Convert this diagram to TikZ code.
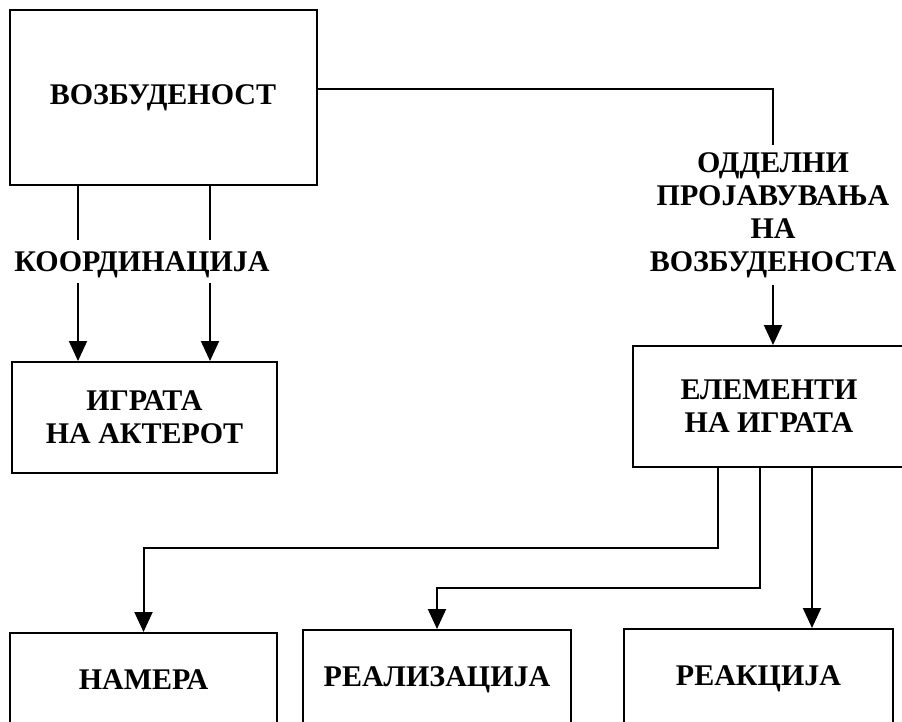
\documentclass[tikz,border=0pt]{standalone}
\usepackage{fontspec}
\setmainfont{Liberation Serif}
\usetikzlibrary{arrows.meta}
\tikzset{
	capfont/.style={font=\fontsize{30}{33}\selectfont\bfseries},
	box/.style={draw, line width=2pt, align=center, capfont},
	lowbox/.style={box, anchor=north, text height=20pt, text depth=90pt, inner ysep=36pt},
	gaplabel/.style={align=center, capfont},
	ln/.style={line width=2pt},
	arr/.style={line width=2pt, -{Triangle[width=18pt,length=20pt]}}
}
\begin{document}
\begin{tikzpicture}[x=1pt,y=-1pt]
		\useasboundingbox (0,0) rectangle (902,721);
		\clip (0,0) rectangle (902,721);
		%
		\node[box, minimum width=307pt, minimum height=175pt] (exc) at (163,97.5) {ВОЗБУДЕНОСТ};
		\node[box, minimum width=265pt, minimum height=111pt] (play) at (144.5,417.5) {ИГРАТА\\НА АКТЕРОТ};
		\node[box, minimum width=272pt, minimum height=121pt] (elem) at (769,406.5) {ЕЛЕМЕНТИ\\НА ИГРАТА};
		%
		\node[lowbox, minimum width=267pt] (intent) at (143.5,632) {НАМЕРА};
		\node[lowbox, minimum width=268pt] (real) at (437,629) {РЕАЛИЗАЦИЈА};
		\node[lowbox, minimum width=269pt] (react) at (758.5,628) {РЕАКЦИЈА};
		%
		\node[gaplabel, text height=20pt, text depth=0pt, inner ysep=11.5pt] (coord) at (142,261.5) {КООРДИНАЦИЈА};
		\node[gaplabel, inner ysep=7pt] (sep) at (773,215) {ОДДЕЛНИ\\ПРОЈАВУВАЊА\\НА\\ВОЗБУДЕНОСТА};
		%
		\coordinate (a1) at (78,0);
		\coordinate (a2) at (210,0);
		\coordinate (t) at (773,89);
		\coordinate (k1) at (718,548);
		\coordinate (k2) at (760,588);
		\coordinate (k3) at (812,0);
		%
		\draw[ln] (exc.south -| a1) -- (coord.north -| a1);
		\draw[ln] (exc.south -| a2) -- (coord.north -| a2);
		\draw[arr] (coord.south -| a1) -- (play.north -| a1);
		\draw[arr] (coord.south -| a2) -- (play.north -| a2);
		%
		\draw[ln] (exc.east |- t) -| (sep.north);
		\draw[arr] (sep.south) -- (sep.south |- elem.north);
		%
		\draw[arr] (elem.south -| k1) -- (k1) -| (intent.north);
		\draw[arr] (elem.south -| k2) -- (k2) -| (real.north);
		\draw[arr] (elem.south -| k3) -- (react.north -| k3);
\end{tikzpicture}
\end{document}
